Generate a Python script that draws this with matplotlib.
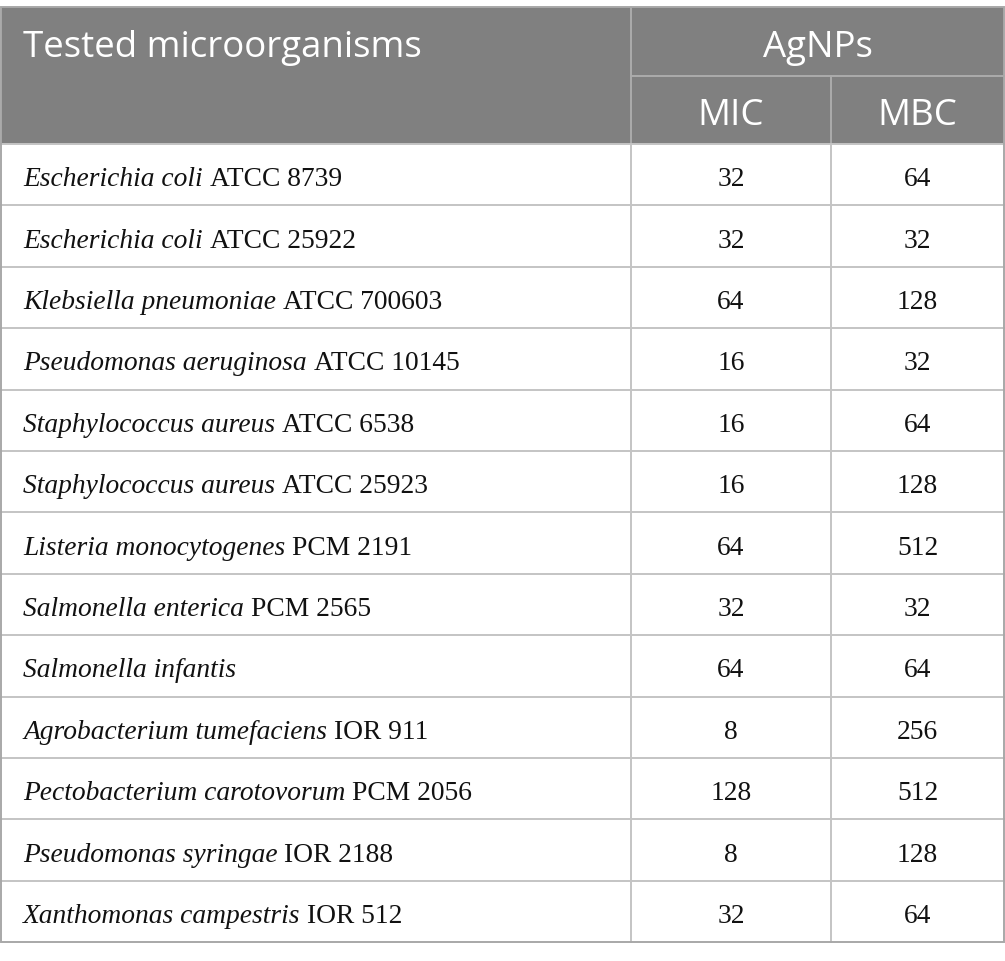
import matplotlib
matplotlib.use("Agg")
import matplotlib.pyplot as plt
from matplotlib.patches import Rectangle

# ---- data ----
species = ["Escherichia coli", "Escherichia coli", "Klebsiella pneumoniae",
           "Pseudomonas aeruginosa", "Staphylococcus aureus", "Staphylococcus aureus",
           "Listeria monocytogenes", "Salmonella enterica", "Salmonella infantis",
           "Agrobacterium tumefaciens", "Pectobacterium carotovorum",
           "Pseudomonas syringae", "Xanthomonas campestris"]
strains = ["ATCC 8739", "ATCC 25922", "ATCC 700603", "ATCC 10145", "ATCC 6538",
           "ATCC 25923", "PCM 2191", "PCM 2565", "", "IOR 911", "PCM 2056",
           "IOR 2188", "IOR 512"]
mic = [32, 32, 64, 16, 16, 16, 64, 32, 64, 8, 128, 8, 32]
mbc = [64, 32, 128, 32, 64, 128, 512, 32, 64, 256, 512, 128, 64]
header_first = "Tested microorganisms"
header_group = "AgNPs"
header_sub = ["MIC", "MBC"]

# ---- layout (pixels) ----
W, H = 1005, 962
x0, x1, x2, x3 = 1, 631, 831, 1004
y_top, y_h1, y_h2 = 8, 77, 145
row_h = 61.4
n = len(species)
y_bot = y_h2 + n * row_h

fig = plt.figure(figsize=(W / 100, H / 100), dpi=100)
ax = fig.add_axes([0, 0, 1, 1])
ax.set_xlim(0, W)
ax.set_ylim(H, 0)
ax.axis("off")

HEAD_BG = "#808080"
LINE = "#c4c4c4"
HLINE = "#acacac"
TXT = "#111111"

# header background
ax.add_patch(Rectangle((x0, y_top), x3 - x0, y_h2 - y_top, facecolor=HEAD_BG,
                       edgecolor="none", zorder=1))

renderer = fig.canvas.get_renderer()


def fit_size(txt, target_w, **kw):
    t = ax.text(0, 0, txt, fontsize=20, **kw)
    w = t.get_window_extent(renderer).width
    t.remove()
    return 20 * target_w / w


head_fs = fit_size(header_first, 398, family="Open Sans")
t_it = ax.text(0, 0, species[0] + " ", fontsize=20, family="Liberation Serif", style="italic")
t_rg = ax.text(0, 0, strains[0], fontsize=20, family="Liberation Serif")
wtot = t_it.get_window_extent(renderer).width + t_rg.get_window_extent(renderer).width
t_it.remove(); t_rg.remove()
body_fs = 20 * (341 - 23) / wtot

head_cap = 26
body_cap = 19

# header texts
ax.text(23, (y_top + y_h1) / 2 + head_cap / 2 + 1, header_first, fontsize=head_fs,
        family="Open Sans", color="white", va="baseline", ha="left", zorder=3)
ax.text((x1 + x3) / 2, (y_top + y_h1) / 2 + head_cap / 2 + 1, header_group, fontsize=head_fs,
        family="Open Sans", color="white", va="baseline", ha="center", zorder=3)
for xc, s in zip([(x1 + x2) / 2, (x2 + x3) / 2], header_sub):
    ax.text(xc, (y_h1 + y_h2) / 2 + head_cap / 2 + 1, s, fontsize=head_fs,
            family="Open Sans", color="white", va="baseline", ha="center", zorder=3)

# body rows
inv = ax.transData.inverted()
sp = ax.text(0, 0, "a a", fontsize=body_fs, family="Liberation Serif")
sw1 = sp.get_window_extent(renderer).width
sp.remove()
sp = ax.text(0, 0, "aa", fontsize=body_fs, family="Liberation Serif")
sw2 = sp.get_window_extent(renderer).width
sp.remove()
space_w = sw1 - sw2
for i in range(n):
    yc = y_h2 + (i + 0.5) * row_h
    yb = yc + body_cap / 2 + 1
    ti = ax.text(23, yb, species[i], fontsize=body_fs, family="Liberation Serif",
                 style="italic", color=TXT, va="baseline", ha="left", zorder=3)
    if strains[i]:
        bb = ti.get_window_extent(renderer)
        xe = inv.transform((bb.x1, 0))[0]
        ax.text(xe + space_w, yb, strains[i], fontsize=body_fs,
                family="Liberation Serif", color=TXT, va="baseline", ha="left", zorder=3)
    ax.text((x1 + x2) / 2, yb, str(mic[i]), fontsize=body_fs, family="Liberation Serif",
            color=TXT, va="baseline", ha="center", zorder=3)
    ax.text((x2 + x3) / 2, yb, str(mbc[i]), fontsize=body_fs, family="Liberation Serif",
            color=TXT, va="baseline", ha="center", zorder=3)

# grid lines
lw = 1.4
ax.plot([x1, x3], [y_h1, y_h1], color=HLINE, lw=lw, zorder=2)
ax.plot([x2, x2], [y_h1, y_h2], color=HLINE, lw=lw, zorder=2)
ax.plot([x1, x1], [y_top, y_h2], color=HLINE, lw=lw, zorder=2)
for i in range(1, n):
    y = y_h2 + i * row_h
    ax.plot([x0, x3], [y, y], color=LINE, lw=lw, zorder=2)
ax.plot([x1, x1], [y_h2, y_bot], color=LINE, lw=lw, zorder=2)
ax.plot([x2, x2], [y_h2, y_bot], color=LINE, lw=lw, zorder=2)
ax.plot([x0, x3], [y_h2, y_h2], color=LINE, lw=lw, zorder=2)
ax.add_patch(Rectangle((x0, y_top), x3 - x0, y_bot - y_top, facecolor="none",
                       edgecolor="#a8a8a8", lw=lw, zorder=4))

fig.savefig("out.png", dpi=100)
